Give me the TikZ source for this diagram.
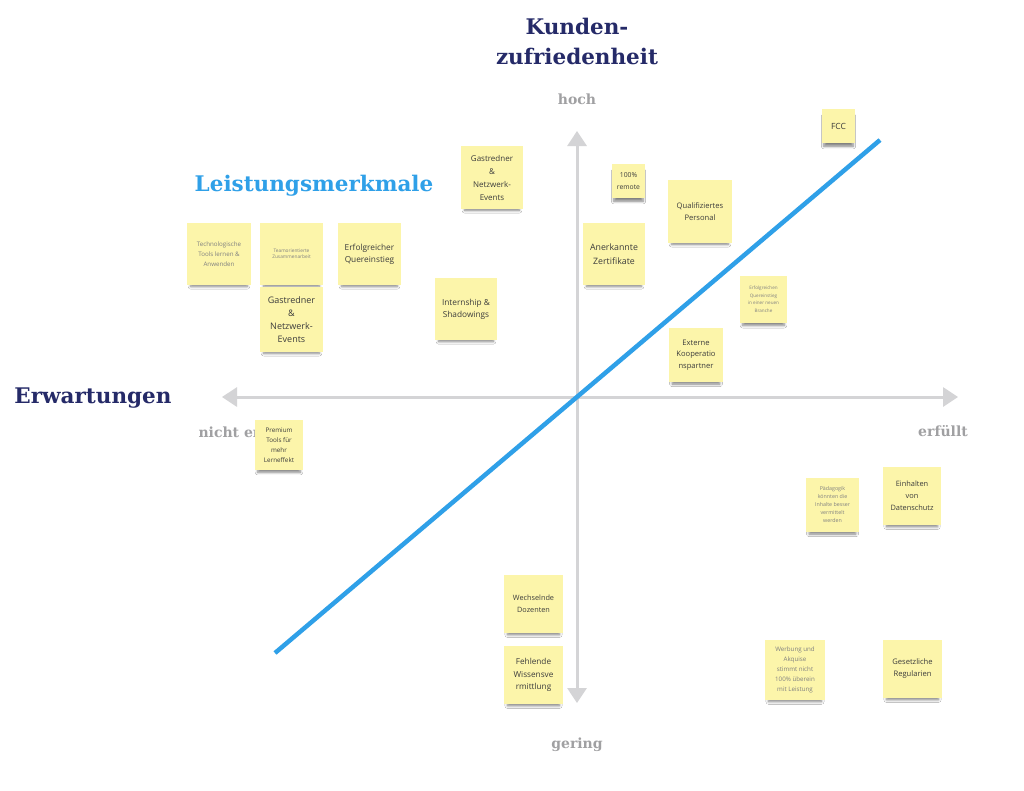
\documentclass[tikz,border=0pt]{standalone}
\usepackage{fontspec}
\setmainfont{Open Sans}
\newfontfamily\slabfont{DejaVu Serif}
\usetikzlibrary{arrows.meta,shadows.blur}
\definecolor{navy}{RGB}{37,42,104}
\definecolor{lineblue}{RGB}{47,160,232}
\definecolor{axisgray}{RGB}{212,212,214}
\definecolor{levelgray}{RGB}{160,160,162}
\definecolor{notefill}{RGB}{252,245,170}
\definecolor{notetext}{RGB}{60,60,60}
\tikzset{
  note/.style 2 args={fill=notefill, inner sep=1pt, align=center, text=notetext,
    font=\fontsize{#1}{#2}\selectfont,
    blur shadow={shadow xshift=0pt, shadow yshift=-6pt, shadow scale=0.88,
      shadow blur radius=3pt, shadow blur steps=6, shadow opacity=50}},
  faint/.style={text=notetext!65},
  axis/.style={draw=axisgray, line width=3pt},
  heading/.style={text=navy, font=\slabfont\bfseries\fontsize{21.5}{30}\selectfont, align=center},
  level/.style={text=levelgray, font=\slabfont\bfseries\fontsize{14}{16}\selectfont},
}

\begin{document}
\begin{tikzpicture}[x=1pt, y=-1pt]
      \useasboundingbox[fill=white] (0,0) rectangle (1024,790);
      \node[heading] (kunden) at (577, 41) {Kunden-\\zufriedenheit};
      \node[heading] (erwart) at (93, 398) {Erwartungen};
      \node[heading, text=lineblue] (merkmale) at (314, 186) {Leistungsmerkmale};
      \node[level] (hoch) at (577, 99) {hoch};
      \node[level] (gering) at (577, 745) {gering};
      \node[level, anchor=west] (nicht) at (195, 432) {nicht erfüllt};
      \node[level] (erfuellt) at (943, 431) {erfüllt};
      \coordinate (top) at (577, 131);
      \coordinate (bottom) at (577, 703);
      \coordinate (left) at (222, 397);
      \coordinate (right) at (958, 397);
      \draw[axis, {Triangle[length=15pt, width=19pt]}-{Triangle[length=15pt, width=19pt]}] (bottom) -- (top);
      \draw[axis, {Triangle[length=15pt, width=19pt]}-{Triangle[length=15pt, width=19pt]}] (right) -- (left);
      \coordinate (low) at (275, 653);
      \coordinate (high) at (880, 140);
      \draw[lineblue, line width=4.5pt] (low) -- (high);
      \node[note={6.2}{10}, faint, minimum width=64, minimum height=62] (tools) at (219, 254) {Technologische\\Tools lernen \&\\Anwenden};
      \node[note={4.8}{6}, faint, minimum width=63, minimum height=62] (team) at (291.5, 254) {Teamorientierte\\Zusammenarbeit};
      \node[note={9}{13}, minimum width=63, minimum height=65] (gast1) at (291.5, 319.5) {Gastredner\\\&\\Netzwerk-\\Events};
      \node[note={8.3}{12}, minimum width=63, minimum height=62] (quer) at (369.5, 254) {Erfolgreicher\\Quereinstieg};
      \node[note={8.3}{12}, minimum width=62, minimum height=62] (intern) at (466, 309) {Internship \&\\Shadowings};
      \node[note={8}{13}, minimum width=62, minimum height=63] (gast2) at (492, 177.5) {Gastredner\\\&\\Netzwerk-\\Events};
      \node[note={6.8}{12}, minimum width=33, minimum height=34] (remote) at (628.5, 181) {100\%\\remote};
      \node[note={7.6}{12}, minimum width=64, minimum height=63] (quali) at (700, 211.5) {Qualifiziertes\\Personal};
      \node[note={8.5}{12}, minimum width=33, minimum height=34] (fcc) at (838.5, 126) {FCC};
      \node[note={8.8}{14}, minimum width=62, minimum height=62] (zert) at (614, 254) {Anerkannte\\Zertifikate};
      \node[note={4.6}{7.5}, faint, minimum width=47, minimum height=47] (branche) at (763.5, 299.5) {Erfolgreichen\\Quereinstieg\\in einer neuen\\Branche};
      \node[note={7.6}{11.5}, minimum width=54, minimum height=54] (extern) at (696, 355) {Externe\\Kooperatio\\nspartner};
      \node[note={6.3}{10}, minimum width=48, minimum height=50] (premium) at (279, 445) {Premium\\Tools für\\mehr\\Lerneffekt};
      \node[note={5.3}{8}, faint, minimum width=53, minimum height=54] (paed) at (832.5, 505) {Pädagogik\\könnten die\\Inhalte besser\\vermittelt\\werden};
      \node[note={7.4}{12}, minimum width=58, minimum height=58] (daten) at (912, 496) {Einhalten\\von\\Datenschutz};
      \node[note={7.3}{12}, minimum width=59, minimum height=58] (wechsel) at (533.5, 604) {Wechselnde\\Dozenten};
      \node[note={8.2}{12.5}, minimum width=59, minimum height=58] (fehlend) at (533.5, 675) {Fehlende\\Wissensve\\rmittlung};
      \node[note={6.2}{10}, faint, minimum width=60, minimum height=60] (werbung) at (795, 670) {Werbung und\\Akquise\\stimmt nicht\\100\% überein\\mit Leistung};
      \node[note={7.6}{12}, minimum width=59, minimum height=58] (gesetz) at (912.5, 669) {Gesetzliche\\Regularien};
    \end{tikzpicture}
\end{document}
